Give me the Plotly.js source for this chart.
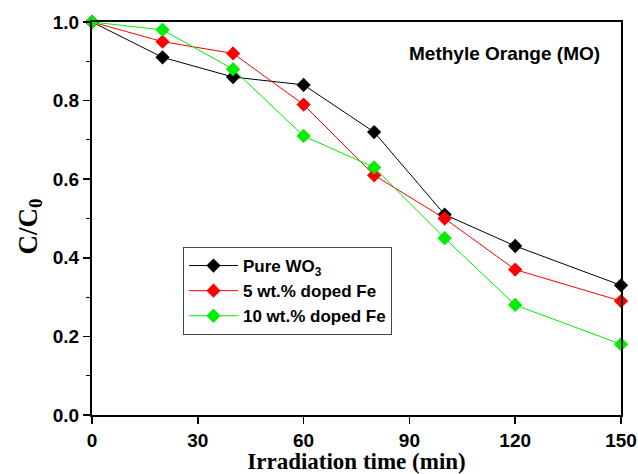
<!DOCTYPE html>
<html><head><meta charset="utf-8">
<script src="https://cdn.plot.ly/plotly-3.0.1.min.js"></script>
<style>body{margin:0;padding:0;background:#fff}#c{width:638px;height:474px}</style>
</head><body><div id="c"></div>
<script>
var time = [0, 20, 40, 60, 80, 100, 120, 150];
var pureWO3 = [1.0, 0.91, 0.86, 0.84, 0.72, 0.51, 0.43, 0.33];
var fe5 = [1.0, 0.95, 0.92, 0.79, 0.61, 0.50, 0.37, 0.29];
var fe10 = [1.0, 0.98, 0.88, 0.71, 0.63, 0.45, 0.28, 0.18];
var names = ["Pure WO<sub>3</sub>", "5 wt.% doped Fe", "10 wt.% doped Fe"];
var colors = ["#000000", "#ff0000", "#00ee00"];
var series = [pureWO3, fe5, fe10];
var xTicks = [0, 30, 60, 90, 120, 150];
var yTicks = [0.0, 0.2, 0.4, 0.6, 0.8, 1.0];

var traces = series.map(function(s, i){
  return {x: time, y: s, name: '<b>' + names[i] + '</b>', mode: 'lines+markers', type: 'scatter',
    line: {color: colors[i], width: 1},
    marker: {symbol: 'diamond', size: 11, color: colors[i]}, cliponaxis: false};
});
var layout = {
  width: 638, height: 474,
  font: {family: 'Liberation Sans, Arial', size: 19, color: '#000'},
  margin: {l: 92, r: 17, t: 22, b: 59},
  paper_bgcolor: '#fff', plot_bgcolor: '#fff',
  showlegend: true,
  legend: {x: 0.172, y: 0.4275, xanchor: 'left', yanchor: 'top', bordercolor: '#444', borderwidth: 1,
    font: {family: 'Liberation Sans, Arial', size: 17, color: '#000'}, tracegroupgap: 0, itemwidth: 49},
  xaxis: {range: [0, 150], tickmode: 'array', tickvals: xTicks, ticktext: xTicks.map(String), showgrid: false, zeroline: false,
    showline: true, linecolor: '#000', linewidth: 2, mirror: true,
    ticks: 'outside', ticklen: 7, tickwidth: 1.5, tickcolor: '#000',
    tickfont: {family: 'Liberation Sans, Arial', size: 19, color: '#000', weight: 700},
    title: {text: '<b>Irradiation time (min)</b>', standoff: 4, font: {family: 'Liberation Serif, Times New Roman', size: 23, color: '#000'}}},
  yaxis: {range: [0, 1.0], tickmode: 'array', tickvals: yTicks, ticktext: yTicks.map(function(v){return v.toFixed(1);}), showgrid: false, zeroline: false,
    showline: true, linecolor: '#000', linewidth: 2, mirror: true,
    ticks: 'outside', ticklen: 7, tickwidth: 1.5, tickcolor: '#000',
    minor: {dtick: 0.1, ticks: 'outside', ticklen: 4, tickwidth: 1, tickcolor: '#000'},
    tickfont: {family: 'Liberation Sans, Arial', size: 19, color: '#000', weight: 700}},
  annotations: [
    {xref: 'paper', yref: 'paper', x: 0.965, y: 0.921, xanchor: 'right', yanchor: 'middle', showarrow: false,
     text: '<b>Methyle Orange (MO)</b>', font: {family: 'Liberation Sans, Arial', size: 19, color: '#000'}},
    {xref: 'paper', yref: 'paper', x: -0.117, y: 0.48, xanchor: 'center', yanchor: 'middle', showarrow: false, textangle: -90,
     text: '<b>C/C<sub>0</sub></b>', font: {family: 'Liberation Serif, Times New Roman', size: 27, color: '#000'}}
  ]
};
Plotly.newPlot('c', traces, layout, {displayModeBar: false, staticPlot: true});
</script></body></html>
